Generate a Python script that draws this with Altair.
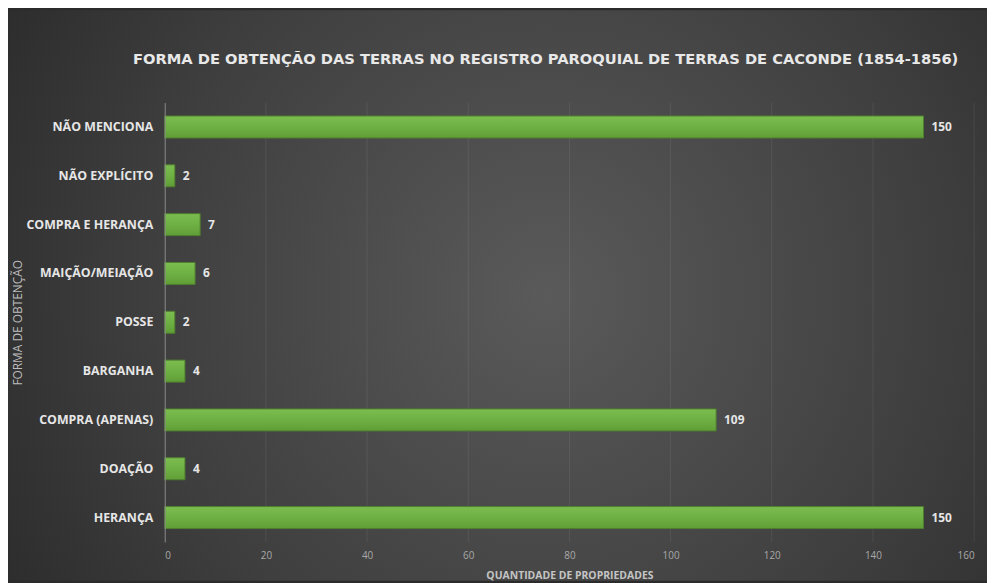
import altair as alt
import pandas as pd

categories = ["NÃO MENCIONA", "NÃO EXPLÍCITO", "COMPRA E HERANÇA", "MAIÇÃO/MEIAÇÃO",
              "POSSE", "BARGANHA", "COMPRA (APENAS)", "DOAÇÃO", "HERANÇA"]
values = [150, 2, 7, 6, 2, 4, 109, 4, 150]
x_ticks = [0, 20, 40, 60, 80, 100, 120, 140, 160]

df = pd.DataFrame({"forma": categories, "qtd": values})
grid_df = pd.DataFrame({"tick": x_ticks[1:]})
bg_df = pd.DataFrame({"k": [0]})

W, H = 816, 443
PL, PT, PR, PB = 158, 93, 13, 39
FONT = "Open Sans"

bg = alt.Chart(bg_df).mark_rect(
    fill=alt.Gradient(
        gradient="radial",
        stops=[alt.GradientStop(color="#5a5a5a", offset=0),
               alt.GradientStop(color="#3e3e3e", offset=0.55),
               alt.GradientStop(color="#232323", offset=1)],
        x1=0.55, y1=0.5, r1=0, x2=0.55, y2=0.5, r2=0.75),
    strokeWidth=0,
).encode(
    x=alt.value(-PL), x2=alt.value(W + PR),
    y=alt.value(-PT), y2=alt.value(H + PB),
)

x_scale = alt.Scale(domain=[0, 160], nice=False)

grid = alt.Chart(grid_df).mark_rule(color="#ffffff", opacity=0.08, strokeWidth=1).encode(
    x=alt.X("tick:Q", scale=x_scale), y=alt.value(0), y2=alt.value(H))

y_enc = alt.Y("forma:N", sort=categories,
              scale=alt.Scale(paddingInner=0.55, paddingOuter=0.275),
              axis=alt.Axis(title="FORMA DE  OBTENÇÃO", titleAngle=270,
                            titleX=-148, titleY=H / 2, titleAlign="center",
                            titleBaseline="middle", titleFontWeight="normal",
                            titleFontSize=12, titleColor="#bdbdbd", titleFont=FONT,
                            labelFont=FONT, labelFontWeight="bold", labelFontSize=12.5,
                            labelColor="#e6e6e6", labelPadding=12, ticks=False,
                            domainColor="#8c8c8c", domainWidth=1, grid=False, zindex=1))
x_enc = alt.X("qtd:Q", scale=x_scale,
              axis=alt.Axis(title="QUANTIDADE DE PROPRIEDADES", values=x_ticks,
                            titleFont=FONT, titleFontWeight="bold", titleFontSize=10.5,
                            titleColor="#c4c4c4", titlePadding=10,
                            labelFont=FONT, labelFontSize=10, labelColor="#a8a8a8",
                            labelPadding=9, ticks=False, domain=False,
                            grid=False, zindex=1))

bar_fill = alt.Gradient(
    gradient="linear",
    stops=[alt.GradientStop(color="#7cbd50", offset=0),
           alt.GradientStop(color="#6fb044", offset=0.5),
           alt.GradientStop(color="#5f9e36", offset=1)],
    x1=0, y1=0, x2=0, y2=1)

bars = alt.Chart(df).mark_bar(fill=bar_fill, stroke="#4f7f2f", strokeWidth=1).encode(
    x=x_enc, y=y_enc)

labels = alt.Chart(df).mark_text(align="left", baseline="middle", dx=8, font=FONT,
                                 fontWeight="bold", fontSize=12, color="#e6e6e6").encode(
    x="qtd:Q", y=alt.Y("forma:N", sort=categories), text="qtd:Q")

chart = alt.layer(bg, grid, bars, labels).properties(
    width=W, height=H,
    autosize=alt.AutoSizeParams(type="none"),
    padding={"left": PL, "top": PT, "right": PR, "bottom": PB},
    title=alt.TitleParams(
        "FORMA DE OBTENÇÃO DAS TERRAS NO REGISTRO PAROQUIAL DE TERRAS DE CACONDE (1854-1856)",
        font="DejaVu Sans", fontSize=14.8, fontWeight="bold", color="#e8e8e8",
        anchor="middle", frame="group", dx=-24, offset=-57, zindex=1),
).configure(background="#2b2b2b").configure_view(stroke=None)

chart.save("out.html", embed_options={"renderer": "svg", "actions": False})
